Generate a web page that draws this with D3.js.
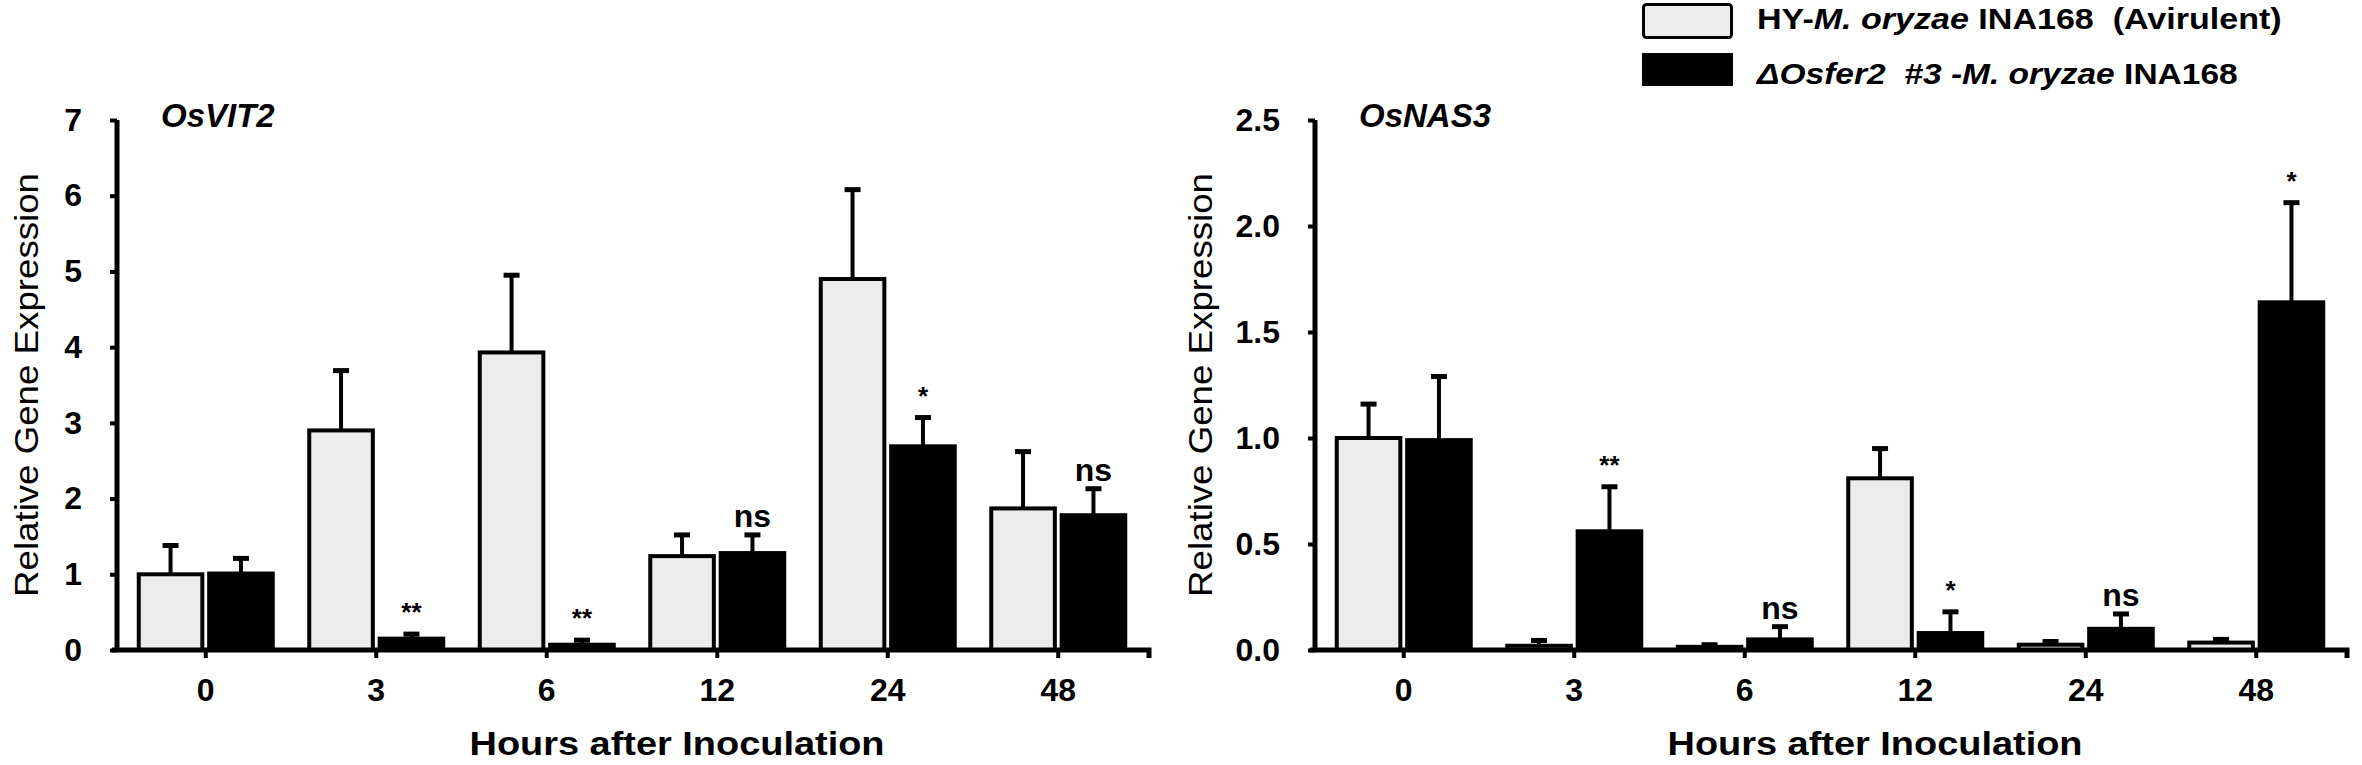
<!DOCTYPE html>
<html>
<head>
<meta charset="utf-8">
<script src="https://d3js.org/d3.v7.min.js"></script>
<style>
  html, body { margin: 0; padding: 0; background: #fff; }
  svg { display: block; font-family: "Liberation Sans", Arial, sans-serif; }
  text { white-space: pre; }
</style>
</head>
<body>
<svg id="chart" width="2362" height="765"></svg>
<script>
// ---- data ----
const hours = ['0', '3', '6', '12', '24', '48'];
const seriesKeys = ['hy', 'mut'];

const vit2Hy     = [1.00, 2.90, 3.93, 1.24, 4.90, 1.87];
const vit2HyErr  = [0.38, 0.79, 1.02, 0.28, 1.18, 0.75];
const vit2Mut    = [1.01, 0.15, 0.07, 1.28, 2.69, 1.78];
const vit2MutErr = [0.20, 0.06, 0.06, 0.24, 0.38, 0.35];
const vit2Sig    = ['', '**', '**', 'ns', '*', 'ns'];
const vit2Ticks  = [0, 1, 2, 3, 4, 5, 6, 7];

const nas3Hy     = [1.00, 0.02, 0.015, 0.81, 0.025, 0.035];
const nas3HyErr  = [0.16, 0.025, 0.01, 0.14, 0.015, 0.015];
const nas3Mut    = [0.99, 0.56, 0.05, 0.08, 0.10, 1.64];
const nas3MutErr = [0.30, 0.21, 0.06, 0.10, 0.07, 0.47];
const nas3Sig    = ['', '**', 'ns', '*', 'ns', '*'];
const nas3Ticks  = [0, 0.5, 1.0, 1.5, 2.0, 2.5];

const fills = { hy: '#ececec', mut: '#000000' };

const svg = d3.select('#chart');

function drawPanel(p) {
    const g = svg.append('g');

    const y = d3.scaleLinear()
        .domain([0, p.ticks[p.ticks.length - 1]])
        .range([650, 120]);

    const x = d3.scaleBand()
        .domain(hours)
        .range([p.x0 + 3.5, p.x0 + 3.5 + 1023]);

    // two bars per time point, split around the category tick
    const xs = d3.scaleBand()
        .domain(seriesKeys)
        .range([-69, 69])
        .paddingInner(0.04);

    const cx = h => x(h) + x.bandwidth() / 2;

    const bars = hours.flatMap((h, i) => [
        { h, key: 'hy', v: p.hy[i], e: p.hyErr[i], sig: '' },
        { h, key: 'mut', v: p.mut[i], e: p.mutErr[i], sig: p.sig[i] }
    ]);
    const barMid = d => cx(d.h) + xs(d.key) + xs.bandwidth() / 2;

    // error bars (upper only)
    const err = g.append('g').attr('stroke', '#000');
    err.selectAll('line.stem')
        .data(bars)
        .join('line')
        .attr('class', 'stem')
        .attr('x1', barMid).attr('x2', barMid)
        .attr('y1', d => y(d.v))
        .attr('y2', d => y(d.v + d.e))
        .attr('stroke-width', 4);
    err.selectAll('line.cap')
        .data(bars)
        .join('line')
        .attr('class', 'cap')
        .attr('x1', d => barMid(d) - 8).attr('x2', d => barMid(d) + 8)
        .attr('y1', d => y(d.v + d.e))
        .attr('y2', d => y(d.v + d.e))
        .attr('stroke-width', 5);

    // bars
    g.append('g')
        .selectAll('rect')
        .data(bars)
        .join('rect')
        .attr('x', d => cx(d.h) + xs(d.key) + 2)
        .attr('width', xs.bandwidth() - 4)
        .attr('y', d => y(d.v))
        .attr('height', d => y(0) - y(d.v))
        .attr('fill', d => fills[d.key])
        .attr('stroke', '#000')
        .attr('stroke-width', 4);

    // significance marks
    const sig = bars.filter(d => d.sig);
    g.append('g')
        .selectAll('text')
        .data(sig)
        .join('text')
        .attr('x', barMid)
        .attr('y', d => y(d.v + d.e) - (d.sig === 'ns' ? 8 : 13))
        .attr('text-anchor', 'middle')
        .attr('font-weight', 'bold')
        .attr('font-size', d => d.sig === 'ns' ? '32px' : '26px')
        .text(d => d.sig);

    // y axis
    const yAxis = g.append('g')
        .attr('transform', `translate(${p.x0},0)`)
        .call(d3.axisLeft(y)
            .tickValues(p.ticks)
            .tickFormat(p.fmt)
            .tickSize(7)
            .tickSizeOuter(0)
            .tickPadding(28));
    yAxis.select('.domain')
        .attr('d', `M0,${y(0) + 2}V${y(p.ticks[p.ticks.length - 1])}`)
        .attr('stroke-width', 5);
    yAxis.selectAll('.tick line').attr('stroke-width', 4);
    yAxis.selectAll('.tick text')
        .attr('font-size', '32px')
        .attr('font-weight', 'bold')
        .attr('font-family', '"Liberation Sans", Arial, sans-serif')
        .attr('fill', '#000');

    // x axis
    const xAxis = g.append('g')
        .attr('transform', `translate(0,${y(0)})`)
        .call(d3.axisBottom(x)
            .tickSize(8)
            .tickSizeOuter(0)
            .tickPadding(20));
    xAxis.select('.domain')
        .attr('d', `M${p.x0 - 5},0H${p.x0 + 1032}V8`)
        .attr('stroke-width', 5);
    xAxis.selectAll('.tick line').attr('stroke-width', 4);
    xAxis.selectAll('.tick text')
        .attr('font-size', '32px')
        .attr('font-weight', 'bold')
        .attr('font-family', '"Liberation Sans", Arial, sans-serif')
        .attr('fill', '#000');

    // gene name
    g.append('text')
        .attr('x', p.x0 + 44)
        .attr('y', 127)
        .attr('font-size', '33px')
        .attr('font-weight', 'bold')
        .attr('font-style', 'italic')
        .text(p.title);

    // axis titles
    g.append('text')
        .attr('x', p.x0 + 560)
        .attr('y', 755)
        .attr('text-anchor', 'middle')
        .attr('font-size', '34px')
        .attr('font-weight', 'bold')
        .attr('textLength', 415)
        .attr('lengthAdjust', 'spacingAndGlyphs')
        .text('Hours after Inoculation');

    g.append('text')
        .attr('transform', `translate(${p.yTitleX},385) rotate(-90)`)
        .attr('text-anchor', 'middle')
        .attr('font-size', '34px')
        .attr('textLength', 424)
        .attr('lengthAdjust', 'spacingAndGlyphs')
        .text('Relative Gene Expression');
}

drawPanel({
    x0: 117, yTitleX: 38, title: 'OsVIT2',
    ticks: vit2Ticks, fmt: d3.format('d'),
    hy: vit2Hy, hyErr: vit2HyErr, mut: vit2Mut, mutErr: vit2MutErr, sig: vit2Sig
});

drawPanel({
    x0: 1315, yTitleX: 1212, title: 'OsNAS3',
    ticks: nas3Ticks, fmt: d3.format('.1f'),
    hy: nas3Hy, hyErr: nas3HyErr, mut: nas3Mut, mutErr: nas3MutErr, sig: nas3Sig
});

// ---- legend ----
const legend = svg.append('g');
legend.append('rect')
    .attr('x', 1643.5).attr('y', 4.5)
    .attr('width', 88).attr('height', 33)
    .attr('rx', 3)
    .attr('fill', fills.hy).attr('stroke', '#000').attr('stroke-width', 3);
legend.append('rect')
    .attr('x', 1642).attr('y', 53)
    .attr('width', 91).attr('height', 33)
    .attr('fill', fills.mut);

function squeezeTo(sel, x, width) {
    const len = sel.node().getComputedTextLength();
    const s = width / len;
    sel.attr('transform', `translate(${x},0) scale(${s},1) translate(${-x},0)`);
}

const l1 = legend.append('text')
    .attr('x', 1757).attr('y', 29)
    .attr('font-size', '30px').attr('font-weight', 'bold');
l1.append('tspan').text('HY-');
l1.append('tspan').attr('font-style', 'italic').text('M. oryzae');
l1.append('tspan').text(' INA168  (Avirulent)');
squeezeTo(l1, 1757, 525);

const l2 = legend.append('text')
    .attr('x', 1757).attr('y', 84)
    .attr('font-size', '30px').attr('font-weight', 'bold');
l2.append('tspan').attr('font-style', 'italic').text('\u0394Osfer2  #3 -M. oryzae');
l2.append('tspan').text(' INA168');
squeezeTo(l2, 1757, 481);
</script>
</body>
</html>
